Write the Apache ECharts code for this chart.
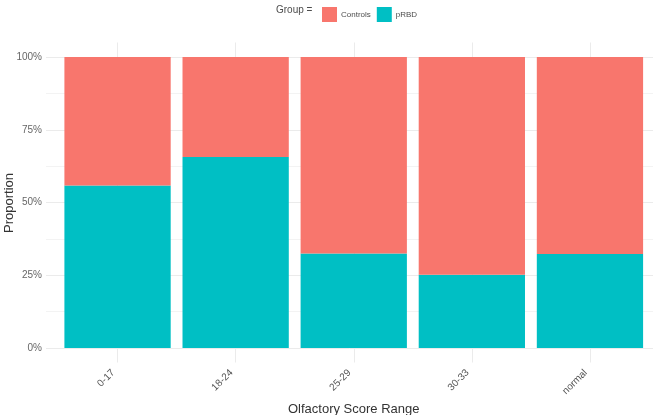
<!DOCTYPE html>
<html><head><meta charset="utf-8">
<script src="https://cdn.jsdelivr.net/npm/echarts@6/dist/echarts.min.js"></script>
<style>html,body{margin:0;padding:0;background:#fff}#c{width:661px;height:415px}</style>
</head><body><div id="c"></div>
<script>
const categories = ['0-17','18-24','25-29','30-33','normal'];
const pRBD = [0.558,0.656,0.325,0.252,0.323];
const controls = [0.442,0.344,0.675,0.748,0.677];
const yTicks = [0,0.25,0.5,0.75,1];
const font = 'Liberation Sans, Arial, sans-serif';
const chart = echarts.init(document.getElementById('c'), null, {renderer:'canvas'});
chart.setOption({
  animation:false,
  backgroundColor:'#fff',
  textStyle:{fontFamily:font},
  graphic:[
    {type:'text', left:276, top:5, style:{text:'Group =', font:'10px '+font, fill:'#4d4d4d'}},
    {type:'text', rotation:Math.PI/2, style:{text:'Proportion', font:'13px '+font, fill:'#333', align:'center', verticalAlign:'middle'}, x:9, y:203}
  ],
  legend:{
    data:['Controls','pRBD'], left:317, top:2, itemWidth:15, itemHeight:15, itemGap:6,
    icon:'rect', textStyle:{fontSize:8, color:'#4d4d4d', padding:[0,0,0,-1]}
  },
  grid:[
    {left:117.5, right:71, top:42.5, bottom:52.5, outerBoundsMode:'none', containLabel:false},
    {left:46, right:8, top:57, bottom:67, outerBoundsMode:'none', containLabel:false},
    {left:58.5, right:12, top:57, bottom:67, outerBoundsMode:'none', containLabel:false}
  ],
  xAxis:[
    {gridIndex:0, type:'value', min:0, max:4, interval:1, axisLabel:{show:false}, axisLine:{show:false}, axisTick:{show:false},
      splitLine:{show:true, lineStyle:{color:'#ebebeb', width:1}}},
    {gridIndex:1, type:'value', min:0, max:1, show:false},
    {gridIndex:2, type:'category', data:categories, boundaryGap:true,
      axisLine:{show:false}, axisTick:{show:false}, splitLine:{show:false},
      axisLabel:{rotate:45, margin:19, padding:[0,6,0,0], fontSize:10, color:'#555', fontFamily:font},
      name:'Olfactory Score Range', nameLocation:'middle', nameGap:53,
      nameTextStyle:{fontSize:13, color:'#333', fontFamily:font}}
  ],
  yAxis:[
    {gridIndex:0, type:'value', min:0, max:1, show:false},
    {gridIndex:1, type:'value', min:0, max:1, interval:0.25,
      axisLine:{show:false}, axisTick:{show:false},
      axisLabel:{fontSize:10, color:'#666', margin:4, formatter:v=>Math.round(v*100)+'%'},
      splitLine:{show:true, lineStyle:{color:'#ebebeb'}},
      minorTick:{show:false, splitNumber:2},
      minorSplitLine:{show:true, lineStyle:{color:'#f3f3f3'}}},
    {gridIndex:2, type:'value', min:0, max:1, show:false}
  ],
  series:[
    {name:'pRBD', type:'bar', stack:'s', xAxisIndex:2, yAxisIndex:2, barCategoryGap:'10%', data:pRBD, itemStyle:{color:'#00BFC4'}},
    {name:'Controls', type:'bar', stack:'s', xAxisIndex:2, yAxisIndex:2, barCategoryGap:'10%', data:controls, itemStyle:{color:'#F8766D'}}
  ]
});
</script></body></html>
